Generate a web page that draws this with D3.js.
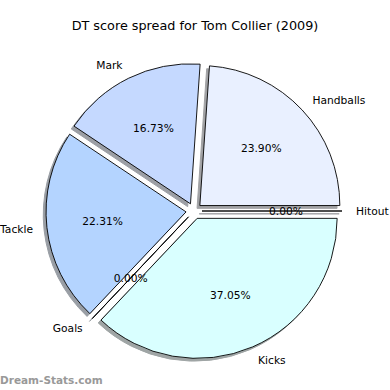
<!DOCTYPE html>
<html>
<head>
<meta charset="utf-8">
<script src="https://cdn.jsdelivr.net/npm/d3@7"></script>
<style>
  body { margin: 0; background: #fff; }
  text { font-family: "DejaVu Sans", sans-serif; }
</style>
</head>
<body>
<div id="chart"></div>
<script>
// data (counter-clockwise from 3 o'clock, like matplotlib)
let labels = ["Hitout", "Handballs", "Mark", "Tackle", "Goals", "Kicks"];
let values = [0.00, 23.90, 16.73, 22.31, 0.00, 37.05];
let colours = ["#eaf1ff", "#e9f0ff", "#c5d9ff", "#b4d4ff", "#c0e0ff", "#d9ffff"];

let width = 390,
height = 390,
cx = 194,
cy = 211,
radius = 140,
explode = 8;

let svg = d3.select("#chart")
.append("svg")
.attr("width", width)
.attr("height", height);

svg.append("text")
.attr("x", 195)
.attr("y", 30)
.attr("text-anchor", "middle")
.style("font-size", "12.8px")
.text("DT score spread for Tom Collier (2009)");

let pie = d3.pie()
.sort(null)
.startAngle(Math.PI / 2)
.endAngle(Math.PI / 2 - 2 * Math.PI)
.value(d => d);

let arc = d3.arc()
.innerRadius(0)
.outerRadius(radius);

let slices = pie(values).map((d, i) => {
    let mid = (d.startAngle + d.endAngle) / 2;
    let dx = Math.sin(mid), dy = -Math.cos(mid);
    return {
        arc: d, mid: mid, dx: dx, dy: dy,
        x: cx + dx * explode, y: cy + dy * explode,
        label: labels[i], value: values[i], colour: colours[i]
    };
});

let shadows = svg.append("g");
let wedges = svg.append("g");
let texts = svg.append("g");

// shadow: 0.3 * facecolor, alpha .5, offset left/down
shadows.selectAll("path")
.data(slices)
.enter().append("path")
.attr("transform", d => "translate(" + (d.x - 2.8) + "," + (d.y + 2.8) + ")")
.attr("d", d => arc(d.arc))
.attr("fill", d => { let c = d3.rgb(d.colour); return d3.rgb(c.r * .3, c.g * .3, c.b * .3); })
.attr("stroke", d => { let c = d3.rgb(d.colour); return d3.rgb(c.r * .3, c.g * .3, c.b * .3); })
.attr("stroke-width", 1)
.attr("opacity", 0.5);

wedges.selectAll("path")
.data(slices)
.enter().append("path")
.attr("transform", d => "translate(" + d.x + "," + d.y + ")")
.attr("d", d => arc(d.arc))
.attr("fill", d => d.colour)
.attr("stroke", "#000")
.attr("stroke-width", 0.9);

texts.selectAll(".lab")
.data(slices)
.enter().append("text")
.classed("lab", true)
.attr("x", d => d.x + d.dx * radius * 1.1)
.attr("y", d => d.y + d.dy * radius * 1.1)
.attr("dy", "0.35em")
.attr("text-anchor", d => d.dx >= -1e-9 ? "start" : "end")
.style("font-size", "10.7px")
.text(d => d.label);

texts.selectAll(".pct")
.data(slices)
.enter().append("text")
.classed("pct", true)
.attr("x", d => d.x + d.dx * radius * 0.6)
.attr("y", d => d.y + d.dy * radius * 0.6)
.attr("dy", "0.35em")
.attr("text-anchor", "middle")
.style("font-size", "10.7px")
.text(d => d3.format(".2f")(d.value) + "%");

svg.append("text")
.attr("x", 0)
.attr("y", 384)
.style("font-size", "10.5px")
.style("font-weight", "bold")
.attr("fill", "#999")
.text("Dream-Stats.com");
</script>
</body>
</html>
